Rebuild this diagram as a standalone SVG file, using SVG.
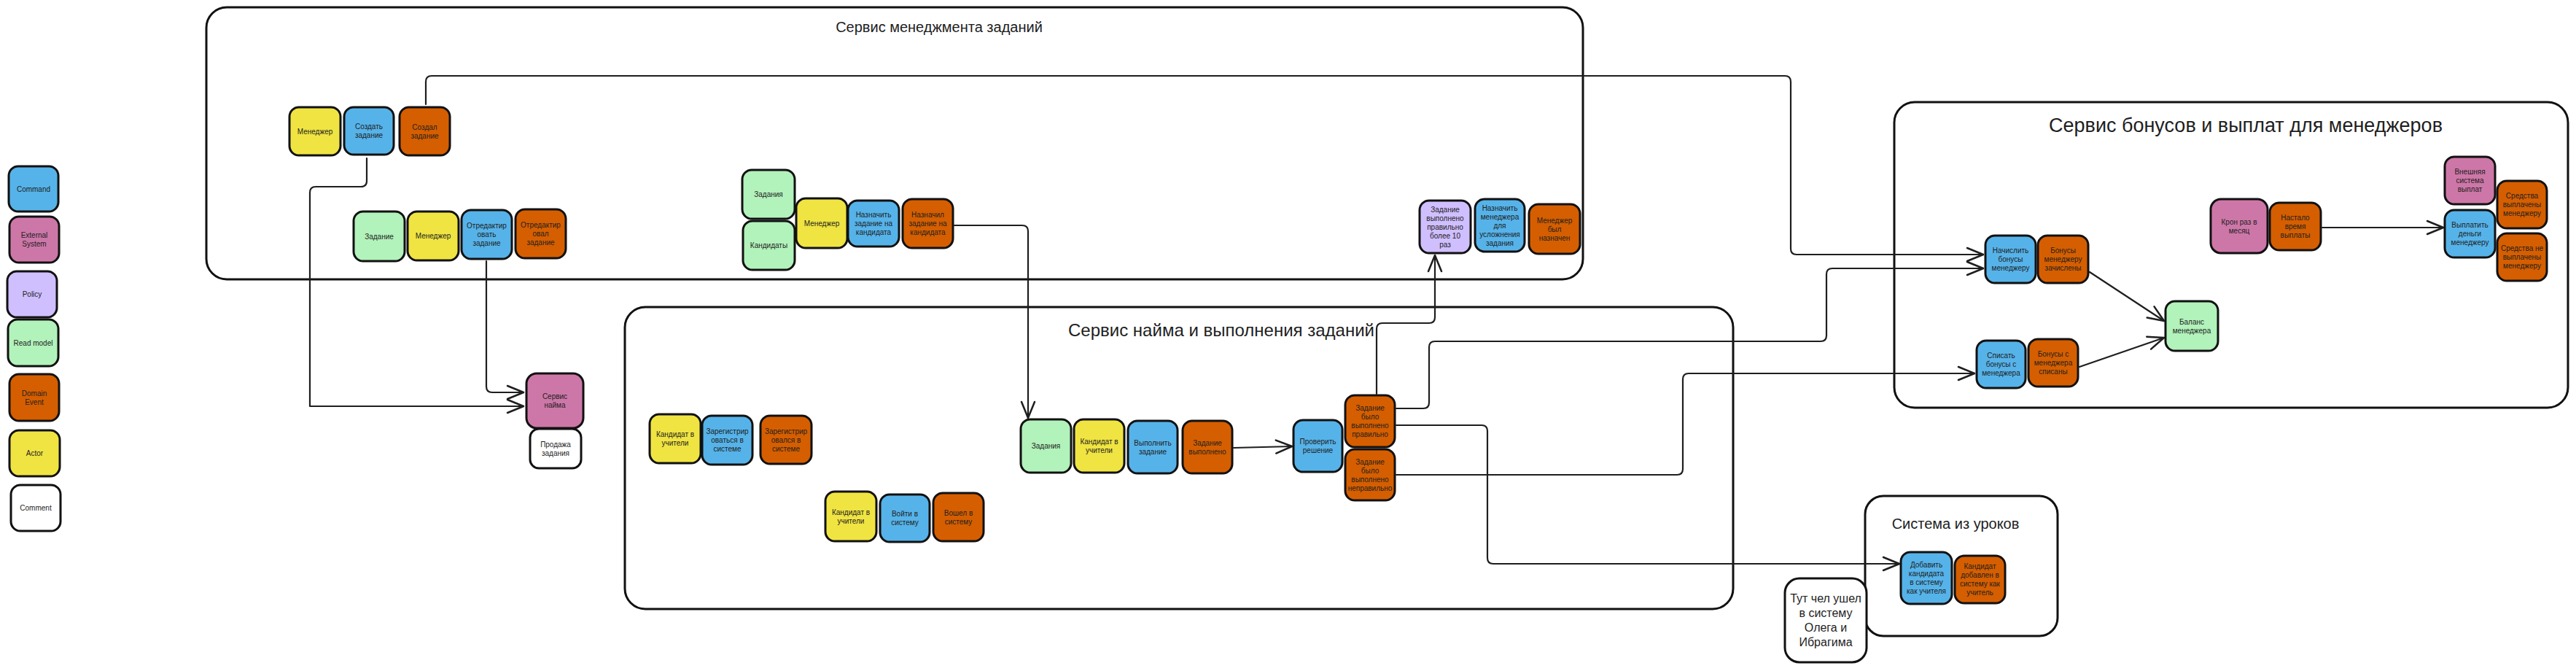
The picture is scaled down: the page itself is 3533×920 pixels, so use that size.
<svg xmlns="http://www.w3.org/2000/svg" width="3533" height="920" viewBox="0 0 3533 920">
<style>
.n{stroke:#111;stroke-width:3}
.cmd{fill:#56b3e9}.ext{fill:#cd77a8}.pol{fill:#d0bfff}.rm{fill:#b2f2bb}.ev{fill:#d55e00}.act{fill:#f0e442}.com{fill:#ffffff}
.box{fill:none;stroke:#111;stroke-width:3}
.t{font-family:"Liberation Sans",Arial,sans-serif;font-size:10px;text-anchor:middle;fill:#1e1e1e}
.h{font-family:"Liberation Sans",Arial,sans-serif;text-anchor:middle;fill:#1e1e1e}
.c{fill:none;stroke:#1e1e1e;stroke-width:2.2;stroke-linejoin:round;stroke-linecap:round;marker-end:url(#ah)}
</style>
<defs>
<marker id="ah" viewBox="-24 -11 26 22" refX="0" refY="0" markerWidth="26" markerHeight="22" markerUnits="userSpaceOnUse" orient="auto">
<path d="M-22,-9 L0,0 L-22,9" fill="none" stroke="#1e1e1e" stroke-width="2.5" stroke-linejoin="round" stroke-linecap="round"/>
</marker>
</defs>
<rect width="3533" height="920" fill="#ffffff"/>

<g id="legend">
<g id="lg-command"><rect class="n cmd" x="12" y="228" width="68" height="62" rx="13"/><text class="t" x="46" y="262.5">Command</text></g>
<g id="lg-external"><rect class="n ext" x="13" y="297" width="68" height="63" rx="13"/><text class="t" x="47" y="326"><tspan x="47" dy="0">External</tspan><tspan x="47" dy="12">System</tspan></text></g>
<g id="lg-policy"><rect class="n pol" x="10" y="372" width="68" height="63" rx="13"/><text class="t" x="44" y="407">Policy</text></g>
<g id="lg-readmodel"><rect class="n rm" x="11" y="438" width="69" height="64" rx="13"/><text class="t" x="45.5" y="473.5">Read model</text></g>
<g id="lg-event"><rect class="n ev" x="13" y="513" width="68" height="64" rx="13"/><text class="t" x="47" y="542.5"><tspan x="47" dy="0">Domain</tspan><tspan x="47" dy="12">Event</tspan></text></g>
<g id="lg-actor"><rect class="n act" x="13" y="590" width="69" height="63" rx="13"/><text class="t" x="47.5" y="625">Actor</text></g>
<g id="lg-comment"><rect class="n com" x="15" y="665" width="68" height="63" rx="13"/><text class="t" x="49" y="700">Comment</text></g>
</g>

<g id="svc-tasks">
<rect class="box" x="283" y="10" width="1888" height="373" rx="28"/>
<text class="h" x="1288" y="44" font-size="20">Сервис менеджмента заданий</text>
</g>
<g id="svc-hire">
<rect class="box" x="857" y="421" width="1520" height="414" rx="28"/>
<text class="h" x="1675" y="461" font-size="24">Сервис найма и выполнения заданий</text>
</g>
<g id="svc-bonus">
<rect class="box" x="2598" y="140" width="924" height="419" rx="28"/>
<text class="h" x="3080" y="181" font-size="27">Сервис бонусов и выплат для менеджеров</text>
</g>
<g id="svc-lessons">
<rect class="box" x="2558" y="680" width="264" height="192" rx="25"/>
<text class="h" x="2682" y="725" font-size="20">Система из уроков</text>
</g>

<g id="connectors">
<path class="c" d="M503,217 V248 Q503,256 495,256 H433 Q425,256 425,264 V557 H718"/>
<path class="c" d="M667,358 V530 Q667,538 675,538 H718"/>
<path class="c" d="M584,143 V112 Q584,104 592,104 H2448 Q2456,104 2456,112 V341 Q2456,349 2464,349 H2720"/>
<path class="c" d="M1309,309 H1402 Q1410,309 1410,317 V573"/>
<path class="c" d="M1888,540 V451 Q1888,443 1896,443 H1960 Q1968,443 1968,435 V350"/>
<path class="c" d="M1692,614 L1772,612"/>
<path class="c" d="M1915,560 H1952 Q1960,560 1960,552 V476 Q1960,468 1968,468 H2497 Q2505,468 2505,460 V376 Q2505,368 2513,368 H2720"/>
<path class="c" d="M1915,583 H2032 Q2040,583 2040,591 V765 Q2040,773 2048,773 H2605"/>
<path class="c" d="M1915,651 H2300 Q2308,651 2308,643 V520 Q2308,512 2316,512 H2708"/>
<path class="c" d="M2866,373 L2968,440"/>
<path class="c" d="M2852,503 L2968,463"/>
<path class="c" d="M3185,312 H3351"/>
</g>

<g id="n-manager1"><rect class="n act" x="397" y="147" width="70" height="66" rx="13"/><text class="t" x="432" y="183.5">Менеджер</text></g>
<g id="n-create-task"><rect class="n cmd" x="472" y="147" width="68" height="65" rx="13"/><text class="t" x="506" y="177"><tspan x="506" dy="0">Создать</tspan><tspan x="506" dy="12">задание</tspan></text></g>
<g id="n-task-created"><rect class="n ev" x="548" y="147" width="69" height="66" rx="13"/><text class="t" x="582.5" y="177.5"><tspan x="582.5" dy="0">Создал</tspan><tspan x="582.5" dy="12">задание</tspan></text></g>
<g id="n-task-rm"><rect class="n rm" x="485" y="290" width="70" height="68" rx="13"/><text class="t" x="520" y="327.5">Задание</text></g>
<g id="n-manager2"><rect class="n act" x="559" y="290" width="70" height="67" rx="13"/><text class="t" x="594" y="327">Менеджер</text></g>
<g id="n-edit-task"><rect class="n cmd" x="633" y="288" width="69" height="67" rx="13"/><text class="t" x="667.5" y="313"><tspan x="667.5" dy="0">Отредактир</tspan><tspan x="667.5" dy="12">овать</tspan><tspan x="667.5" dy="12">задание</tspan></text></g>
<g id="n-task-edited"><rect class="n ev" x="707" y="287" width="69" height="67" rx="13"/><text class="t" x="741.5" y="312"><tspan x="741.5" dy="0">Отредактир</tspan><tspan x="741.5" dy="12">овал</tspan><tspan x="741.5" dy="12">задание</tspan></text></g>
<g id="n-tasks-rm"><rect class="n rm" x="1018" y="233" width="72" height="67" rx="13"/><text class="t" x="1054" y="270">Задания</text></g>
<g id="n-candidates-rm"><rect class="n rm" x="1019" y="303" width="71" height="67" rx="13"/><text class="t" x="1054.5" y="340">Кандидаты</text></g>
<g id="n-manager3"><rect class="n act" x="1092" y="272" width="70" height="68" rx="13"/><text class="t" x="1127" y="309.5">Менеджер</text></g>
<g id="n-assign"><rect class="n cmd" x="1163" y="275" width="70" height="63" rx="13"/><text class="t" x="1198" y="298"><tspan x="1198" dy="0">Назначить</tspan><tspan x="1198" dy="12">задание на</tspan><tspan x="1198" dy="12">кандидата</tspan></text></g>
<g id="n-assigned"><rect class="n ev" x="1238" y="273" width="69" height="67" rx="13"/><text class="t" x="1272.5" y="298"><tspan x="1272.5" dy="0">Назначил</tspan><tspan x="1272.5" dy="12">задание на</tspan><tspan x="1272.5" dy="12">кандидата</tspan></text></g>
<g id="n-policy10"><rect class="n pol" x="1947" y="275" width="70" height="72" rx="13"/><text class="t" x="1982" y="290.5"><tspan x="1982" dy="0">Задание</tspan><tspan x="1982" dy="12">выполнено</tspan><tspan x="1982" dy="12">правильно</tspan><tspan x="1982" dy="12">более 10</tspan><tspan x="1982" dy="12">раз</tspan></text></g>
<g id="n-assign-manager"><rect class="n cmd" x="2023" y="273" width="68" height="72" rx="13"/><text class="t" x="2057" y="288.5"><tspan x="2057" dy="0">Назначить</tspan><tspan x="2057" dy="12">менеджера</tspan><tspan x="2057" dy="12">для</tspan><tspan x="2057" dy="12">усложнения</tspan><tspan x="2057" dy="12">задания</tspan></text></g>
<g id="n-manager-assigned"><rect class="n ev" x="2097" y="280" width="70" height="68" rx="13"/><text class="t" x="2132" y="305.5"><tspan x="2132" dy="0">Менеджер</tspan><tspan x="2132" dy="12">был</tspan><tspan x="2132" dy="12">назначен</tspan></text></g>

<g id="n-hire-service"><rect class="n ext" x="722" y="512" width="78" height="75" rx="14"/><text class="t" x="761" y="547"><tspan x="761" dy="0">Сервис</tspan><tspan x="761" dy="12">найма</tspan></text></g>
<g id="n-sell-task"><rect class="n com" x="727" y="588" width="70" height="54" rx="12"/><text class="t" x="762" y="612.5"><tspan x="762" dy="0">Продажа</tspan><tspan x="762" dy="12">задания</tspan></text></g>

<g id="n-cand1"><rect class="n act" x="891" y="568" width="70" height="67" rx="13"/><text class="t" x="926" y="599"><tspan x="926" dy="0">Кандидат в</tspan><tspan x="926" dy="12">учители</tspan></text></g>
<g id="n-register"><rect class="n cmd" x="963" y="570" width="69" height="67" rx="13"/><text class="t" x="997.5" y="595"><tspan x="997.5" dy="0">Зарегистрир</tspan><tspan x="997.5" dy="12">оваться в</tspan><tspan x="997.5" dy="12">системе</tspan></text></g>
<g id="n-registered"><rect class="n ev" x="1043" y="570" width="70" height="66" rx="13"/><text class="t" x="1078" y="594.5"><tspan x="1078" dy="0">Зарегистрир</tspan><tspan x="1078" dy="12">овался в</tspan><tspan x="1078" dy="12">системе</tspan></text></g>
<g id="n-cand2"><rect class="n act" x="1132" y="674" width="70" height="68" rx="13"/><text class="t" x="1167" y="705.5"><tspan x="1167" dy="0">Кандидат в</tspan><tspan x="1167" dy="12">учители</tspan></text></g>
<g id="n-login"><rect class="n cmd" x="1207" y="678" width="68" height="65" rx="13"/><text class="t" x="1241" y="708"><tspan x="1241" dy="0">Войти в</tspan><tspan x="1241" dy="12">систему</tspan></text></g>
<g id="n-logged"><rect class="n ev" x="1280" y="676" width="69" height="66" rx="13"/><text class="t" x="1314.5" y="706.5"><tspan x="1314.5" dy="0">Вошел в</tspan><tspan x="1314.5" dy="12">систему</tspan></text></g>
<g id="n-tasks-rm2"><rect class="n rm" x="1400" y="575" width="69" height="73" rx="13"/><text class="t" x="1434.5" y="615">Задания</text></g>
<g id="n-cand3"><rect class="n act" x="1473" y="575" width="69" height="73" rx="13"/><text class="t" x="1507.5" y="609"><tspan x="1507.5" dy="0">Кандидат в</tspan><tspan x="1507.5" dy="12">учители</tspan></text></g>
<g id="n-do-task"><rect class="n cmd" x="1547" y="577" width="68" height="72" rx="13"/><text class="t" x="1581" y="610.5"><tspan x="1581" dy="0">Выполнить</tspan><tspan x="1581" dy="12">задание</tspan></text></g>
<g id="n-task-done"><rect class="n ev" x="1622" y="577" width="68" height="72" rx="13"/><text class="t" x="1656" y="610.5"><tspan x="1656" dy="0">Задание</tspan><tspan x="1656" dy="12">выполнено</tspan></text></g>
<g id="n-check"><rect class="n cmd" x="1774" y="576" width="67" height="71" rx="13"/><text class="t" x="1807.5" y="609"><tspan x="1807.5" dy="0">Проверить</tspan><tspan x="1807.5" dy="12">решение</tspan></text></g>
<g id="n-correct"><rect class="n ev" x="1845" y="542" width="68" height="71" rx="13"/><text class="t" x="1879" y="563"><tspan x="1879" dy="0">Задание</tspan><tspan x="1879" dy="12">было</tspan><tspan x="1879" dy="12">выполнено</tspan><tspan x="1879" dy="12">правильно</tspan></text></g>
<g id="n-wrong"><rect class="n ev" x="1845" y="616" width="68" height="70" rx="13"/><text class="t" x="1879" y="636.5"><tspan x="1879" dy="0">Задание</tspan><tspan x="1879" dy="12">было</tspan><tspan x="1879" dy="12">выполнено</tspan><tspan x="1879" dy="12">неправильно</tspan></text></g>

<g id="n-accrue"><rect class="n cmd" x="2723" y="323" width="69" height="65" rx="13"/><text class="t" x="2757.5" y="347"><tspan x="2757.5" dy="0">Начислить</tspan><tspan x="2757.5" dy="12">бонусы</tspan><tspan x="2757.5" dy="12">менеджеру</tspan></text></g>
<g id="n-accrued"><rect class="n ev" x="2795" y="323" width="69" height="65" rx="13"/><text class="t" x="2829.5" y="347"><tspan x="2829.5" dy="0">Бонусы</tspan><tspan x="2829.5" dy="12">менеджеру</tspan><tspan x="2829.5" dy="12">зачислены</tspan></text></g>
<g id="n-debit"><rect class="n cmd" x="2711" y="467" width="67" height="65" rx="13"/><text class="t" x="2744.5" y="491"><tspan x="2744.5" dy="0">Списать</tspan><tspan x="2744.5" dy="12">бонусы с</tspan><tspan x="2744.5" dy="12">менеджера</tspan></text></g>
<g id="n-debited"><rect class="n ev" x="2782" y="465" width="68" height="65" rx="13"/><text class="t" x="2816" y="489"><tspan x="2816" dy="0">Бонусы с</tspan><tspan x="2816" dy="12">менеджера</tspan><tspan x="2816" dy="12">списаны</tspan></text></g>
<g id="n-balance"><rect class="n rm" x="2970" y="413" width="72" height="68" rx="13"/><text class="t" x="3006" y="444.5"><tspan x="3006" dy="0">Баланс</tspan><tspan x="3006" dy="12">менеджера</tspan></text></g>
<g id="n-cron"><rect class="n ext" x="3032" y="273" width="78" height="74" rx="14"/><text class="t" x="3071" y="307.5"><tspan x="3071" dy="0">Крон раз в</tspan><tspan x="3071" dy="12">месяц</tspan></text></g>
<g id="n-paytime"><rect class="n ev" x="3113" y="278" width="70" height="65" rx="13"/><text class="t" x="3148" y="302"><tspan x="3148" dy="0">Настало</tspan><tspan x="3148" dy="12">время</tspan><tspan x="3148" dy="12">выплаты</tspan></text></g>
<g id="n-paysystem"><rect class="n ext" x="3353" y="215" width="69" height="65" rx="13"/><text class="t" x="3387.5" y="239"><tspan x="3387.5" dy="0">Внешняя</tspan><tspan x="3387.5" dy="12">система</tspan><tspan x="3387.5" dy="12">выплат</tspan></text></g>
<g id="n-pay"><rect class="n cmd" x="3353" y="288" width="69" height="65" rx="13"/><text class="t" x="3387.5" y="312"><tspan x="3387.5" dy="0">Выплатить</tspan><tspan x="3387.5" dy="12">деньги</tspan><tspan x="3387.5" dy="12">менеджеру</tspan></text></g>
<g id="n-paid"><rect class="n ev" x="3425" y="248" width="68" height="65" rx="13"/><text class="t" x="3459" y="272"><tspan x="3459" dy="0">Средства</tspan><tspan x="3459" dy="12">выплачены</tspan><tspan x="3459" dy="12">менеджеру</tspan></text></g>
<g id="n-notpaid"><rect class="n ev" x="3425" y="320" width="68" height="65" rx="13"/><text class="t" x="3459" y="344"><tspan x="3459" dy="0">Средства не</tspan><tspan x="3459" dy="12">выплачены</tspan><tspan x="3459" dy="12">менеджеру</tspan></text></g>

<g id="n-add-teacher"><rect class="n cmd" x="2607" y="757" width="70" height="71" rx="13"/><text class="t" x="2642" y="778"><tspan x="2642" dy="0">Добавить</tspan><tspan x="2642" dy="12">кандидата</tspan><tspan x="2642" dy="12">в систему</tspan><tspan x="2642" dy="12">как учителя</tspan></text></g>
<g id="n-teacher-added"><rect class="n ev" x="2681" y="762" width="69" height="65" rx="13"/><text class="t" x="2715.5" y="780"><tspan x="2715.5" dy="0">Кандидат</tspan><tspan x="2715.5" dy="12">добавлен в</tspan><tspan x="2715.5" dy="12">систему как</tspan><tspan x="2715.5" dy="12">учитель</tspan></text></g>
<g id="n-note"><rect class="n com" x="2448" y="793" width="112" height="115" rx="20"/><text class="h" x="2504" y="826" font-size="16"><tspan x="2504" dy="0">Тут чел ушел</tspan><tspan x="2504" dy="20">в систему</tspan><tspan x="2504" dy="20">Олега и</tspan><tspan x="2504" dy="20">Ибрагима</tspan></text></g>
</svg>
